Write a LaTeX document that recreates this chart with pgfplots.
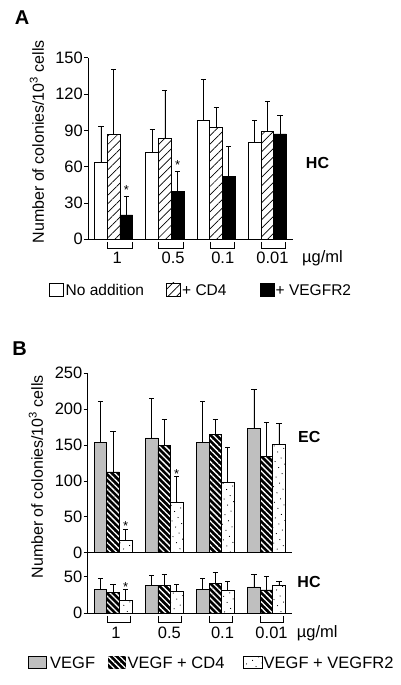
\documentclass[border=0pt]{standalone}
\usepackage{fontspec}
\setmainfont{Liberation Sans}
\usepackage{pgfplots}
\pgfplotsset{compat=1.18}
\usetikzlibrary{patterns,patterns.meta}

\tikzset{
  hatchA/.style={postaction={pattern={Lines[angle=45,distance=6pt,line width=0.7pt]},pattern color=black}},
  hatchB/.style={fill=black,postaction={pattern={Lines[angle=-45,distance=4.2pt,line width=1.3pt]},pattern color=white}},
  dotB/.style={fill=white,postaction={pattern={Dots[angle=30,distance=7pt,radius=0.6pt]},pattern color=black}},
  grayB/.style={fill=black!25},
  lab/.style={font=\fontsize{16.5}{18}\selectfont},
  ast/.style={font=\fontsize{13}{13}\selectfont, yshift=-3pt},
}
\pgfplotsset{
  base/.style={
    scale only axis, clip=false,
    axis x line*=bottom, axis y line*=left,
    axis line style={-, line width=0.8pt},
    xmin=0.5, xmax=4.5, ymin=0,
    xtick=\empty,
    tick align=outside, major tick length=4pt,
    ytick style={line width=0.8pt, black},
    yticklabel style={font=\fontsize{16.5}{18}\selectfont, inner sep=1pt},
    /pgf/number format/assume math mode=true,
  },
  bars/.style={ybar, bar width=#1, bar shift=0pt, draw=black, line width=0.7pt,
    error bars/y dir=plus, error bars/y explicit,
    error bars/error mark=-,
    error bars/error bar style={line width=0.7pt, black},
    error bars/error mark options={rotate=90, mark size=2.6pt, line width=0.9pt, black}},
}

\begin{document}
\begin{tikzpicture}[x=1pt,y=1pt]
\useasboundingbox (0pt,0pt) rectangle (400pt,685pt);

% ---------------- Panel A ----------------
\begin{axis}[base, at={(88pt,445.7pt)}, anchor=south west, width=205pt, height=181.6pt,
  ymax=150, ytick={0,30,...,150}]
\addplot[bars=0.248, fill=white] table[x=x,y=y,y error=e]{
x y e
0.752 63.3 30.3
1.752 72.1 18.5
2.752 98.5 33.5
3.752 80.0 18.5
};
\addplot[bars=0.248, fill=white, hatchA] table[x=x,y=y,y error=e]{
x y e
1 86.4 54.2
2 83.7 39.6
3 92.5 16.5
4 89.2 24.8
};
\addplot[bars=0.248, fill=black] table[x=x,y=y,y error=e]{
x y e
1.248 20.1 15.7
2.248 39.4 16.5
3.248 52.0 24.8
4.248 87.0 15.7
};
\node[ast] at (axis cs:1.248,43) {*};
\node[ast] at (axis cs:2.248,64) {*};
\pgfplotsinvokeforeach{1,2,3,4}{
  \draw[line width=0.7pt] ([yshift=-2.7pt]axis cs:#1-0.12,0) -- ([yshift=-9pt]axis cs:#1-0.12,0)
     -- ([yshift=-9pt]axis cs:#1+0.36,0) -- ([yshift=-2.7pt]axis cs:#1+0.36,0);
}
\node[lab] at ([yshift=-19pt]axis cs:1.07,0) {1};
\node[lab] at ([yshift=-19pt]axis cs:2.16,0) {0.5};
\node[lab] at ([yshift=-19pt]axis cs:3.13,0) {0.1};
\node[lab] at ([yshift=-19pt]axis cs:4.10,0) {0.01};
\end{axis}
\node[lab, anchor=west, inner sep=0pt] at (302pt,427pt) {µg/ml};
\node[font=\fontsize{16}{18}\selectfont, rotate=90] at (37pt,543.3pt) {Number of colonies/10\textsuperscript{3} cells};
\node[font=\bfseries\fontsize{20}{22}\selectfont] at (22pt,667.5pt) {A};
\node[font=\bfseries\fontsize{16}{18}\selectfont] at (317.5pt,521.7pt) {HC};
% legend A
\draw[line width=0.7pt, fill=white] (49.5pt,388.5pt) rectangle (63pt,402pt);
\node[font=\fontsize{15.5}{17}\selectfont, anchor=west, inner sep=0pt] at (65.5pt,395pt) {No addition};
\draw[line width=0.7pt, hatchA] (166pt,388.5pt) rectangle (180pt,402pt);
\node[font=\fontsize{15.5}{17}\selectfont, anchor=west, inner sep=0pt] at (182pt,395pt) {+ CD4};
\draw[line width=0.7pt, fill=black] (260pt,388.5pt) rectangle (274pt,402pt);
\node[font=\fontsize{15.5}{17}\selectfont, anchor=west, inner sep=0pt] at (275.5pt,395pt) {+ VEGFR2};

% ---------------- Panel B : EC ----------------
\begin{axis}[base, at={(87.5pt,132.3pt)}, anchor=south west, width=204.5pt, height=179.4pt,
  ymax=250, ytick={0,50,...,250}]
\addplot[bars=0.245, grayB] table[x=x,y=y,y error=e]{
x y e
0.755 153.3 58.1
1.755 160.0 55.0
2.755 153.3 57.7
3.755 173.3 53.7
};
\addplot[bars=0.245, hatchB] table[x=x,y=y,y error=e]{
x y e
1 112.5 56.5
2 149.8 36.0
3 165.0 21.0
4 133.6 47.4
};
\addplot[bars=0.245, dotB] table[x=x,y=y,y error=e]{
x y e
1.245 16.7 15.9
2.245 70.8 35.6
3.245 98.3 49.0
4.245 150.8 28.8
};
\node[ast] at (axis cs:1.245,41) {*};
\node[ast] at (axis cs:2.245,114.3) {*};
\end{axis}

% ---------------- Panel B : HC ----------------
\begin{axis}[base, at={(87.5pt,71.7pt)}, anchor=south west, width=204.5pt, height=60.6pt,
  ymax=82.7, ytick={0,50}]
\addplot[bars=0.245, grayB] table[x=x,y=y,y error=e]{
x y e
0.755 32.5 14.8
1.755 37.7 14.6
2.755 32.5 14.8
3.755 36.0 17.0
};
\addplot[bars=0.245, hatchB] table[x=x,y=y,y error=e]{
x y e
1 28.2 11.3
2 37.7 15.6
3 40.7 14.6
4 31.8 19.0
};
\addplot[bars=0.245, dotB] table[x=x,y=y,y error=e]{
x y e
1.245 17.8 14.5
2.245 30.0 9.8
3.245 32.0 10.8
4.245 38.0 5.4
};
\node[ast] at (axis cs:1.245,40) {*};
\pgfplotsinvokeforeach{1,2,3,4}{
  \draw[line width=0.7pt] ([yshift=-3pt]axis cs:#1-0.12,0) -- ([yshift=-9.5pt]axis cs:#1-0.12,0)
     -- ([yshift=-9.5pt]axis cs:#1+0.34,0) -- ([yshift=-3pt]axis cs:#1+0.34,0);
}
\node[lab] at ([yshift=-20pt]axis cs:1.057,0) {1};
\node[lab] at ([yshift=-20pt]axis cs:2.10,0) {0.5};
\node[lab] at ([yshift=-20pt]axis cs:3.14,0) {0.1};
\node[lab] at ([yshift=-20pt]axis cs:4.10,0) {0.01};
\end{axis}
\node[lab, anchor=west, inner sep=0pt] at (296.7pt,51.7pt) {µg/ml};
\node[font=\fontsize{16}{18}\selectfont, rotate=90] at (36pt,208.3pt) {Number of colonies/10\textsuperscript{3} cells};
\node[font=\bfseries\fontsize{20}{22}\selectfont] at (19.5pt,336.5pt) {B};
\node[font=\bfseries\fontsize{16}{18}\selectfont] at (309.2pt,247.7pt) {EC};
\node[font=\bfseries\fontsize{16}{18}\selectfont] at (309pt,102.7pt) {HC};
% legend B
\draw[line width=0.7pt, grayB] (28.3pt,16.5pt) rectangle (46.7pt,28.5pt);
\node[font=\fontsize{16.5}{18}\selectfont, anchor=west, inner sep=0pt] at (50pt,22.5pt) {VEGF};
\draw[line width=0.7pt, hatchB] (108pt,16.5pt) rectangle (125.5pt,28.5pt);
\node[font=\fontsize{16.5}{18}\selectfont, anchor=west, inner sep=0pt] at (127.5pt,22.5pt) {VEGF + CD4};
\draw[line width=0.7pt, dotB] (243pt,16.5pt) rectangle (262pt,28.5pt);
\node[font=\fontsize{16.5}{18}\selectfont, anchor=west, inner sep=0pt] at (263.5pt,22.5pt) {VEGF + VEGFR2};
\end{tikzpicture}
\end{document}
